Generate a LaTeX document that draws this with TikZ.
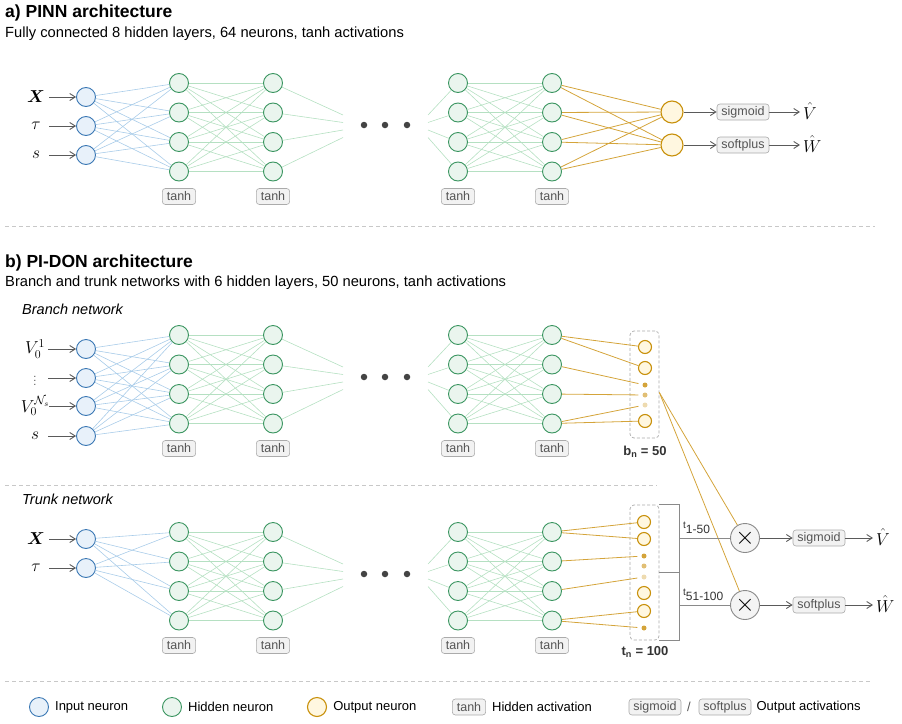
\documentclass[tikz,border=0pt]{standalone}
\usepackage{fontspec}
\setmainfont{Liberation Sans}
\usepackage{bm}
\usetikzlibrary{arrows.meta,positioning}

\definecolor{inblue}{HTML}{3B78B4}
\definecolor{infill}{HTML}{E8F1FA}
\definecolor{inline}{HTML}{A9CCE9}
\definecolor{hidgreen}{HTML}{3A9560}
\definecolor{hidfill}{HTML}{EAF5EE}
\definecolor{hidline}{HTML}{B5E0C2}
\definecolor{outgold}{HTML}{C8900A}
\definecolor{outfill}{HTML}{FFF7E0}
\definecolor{goldline}{HTML}{D4A43A}
\definecolor{boxgray}{HTML}{ABABAB}
\definecolor{boxfill}{HTML}{F2F2F2}
\definecolor{txtgray}{HTML}{555555}
\definecolor{arrgray}{HTML}{5A5A5A}
\definecolor{dotgray}{HTML}{444444}
\definecolor{mulgray}{HTML}{8A8A8A}
\definecolor{mulfill}{HTML}{F4F4F4}
\definecolor{sepgray}{HTML}{C8C8C8}
\definecolor{labgray}{HTML}{333333}

\tikzset{
  neuron/.style={circle, line width=0.9pt, minimum size=19pt, inner sep=0pt},
  inneuron/.style={neuron, draw=inblue, fill=infill},
  hidneuron/.style={neuron, draw=hidgreen, fill=hidfill},
  outneuron/.style={neuron, draw=outgold, fill=outfill, line width=1.1pt},
  bigout/.style={outneuron, minimum size=22pt},
  smallout/.style={outneuron, minimum size=13pt},
  slotdot/.style={circle, fill=#1, minimum size=5pt, inner sep=0pt},
  bigdot/.style={circle, fill=dotgray, minimum size=6.5pt, inner sep=0pt},
  actbox/.style={draw=boxgray, fill=boxfill, rounded corners=3pt, text=txtgray,
    font=\fontsize{12.5}{13}\selectfont, inner xsep=4.5pt, inner ysep=0pt,
    minimum height=16pt, line width=0.6pt},
  mulnode/.style={circle, draw=mulgray, fill=mulfill, line width=0.9pt,
    minimum size=29pt, inner sep=0pt, font=\fontsize{24}{24}\selectfont},
  slotbox/.style={draw=boxgray, dash pattern=on 3pt off 2pt, rounded corners=4pt,
    minimum width=29pt, inner sep=0pt, line width=0.7pt},
  inlabel/.style={minimum width=26pt, inner sep=0pt, font=\fontsize{16.5}{18}\selectfont},
  hatlabel/.style={anchor=west, inner sep=2pt, font=\fontsize{17}{18}\selectfont},
  feed/.style={-{Straight Barb[length=5.5pt,width=7pt]}, arrgray, line width=0.9pt},
  inedge/.style={inline, line width=0.6pt},
  hidedge/.style={hidline, line width=0.6pt},
  outedge/.style={goldline, line width=0.8pt},
  bracket/.style={mulgray, line width=0.8pt},
  sep/.style={sepgray, dash pattern=on 4pt off 3pt, line width=0.7pt},
  heading/.style={anchor=west, inner sep=0pt, font=\bfseries\fontsize{17.5}{20}\selectfont},
  subheading/.style={anchor=west, inner sep=0pt, font=\fontsize{14.7}{17}\selectfont},
  netname/.style={anchor=west, inner sep=0pt, font=\itshape\fontsize{14.5}{17}\selectfont},
  legtext/.style={anchor=west, inner sep=0pt, font=\fontsize{13}{15}\selectfont},
  sizelabel/.style={font=\bfseries\fontsize{13}{15}\selectfont, text=labgray, inner sep=0pt},
  tlabel/.style={anchor=base west, inner sep=0pt, text=labgray, font=\fontsize{12}{13}\selectfont},
}

\begin{document}
\begin{tikzpicture}[x=1pt,y=-1pt]
  \useasboundingbox (0,0) rectangle (902,723);

  % Headings
  \node[heading] (ttla) at (5,13) {a) PINN architecture};
  \node[subheading] (suba) at (5,34) {Fully connected 8 hidden layers, 64 neurons, tanh activations};
  \node[heading] (ttlb) at (5,263) {b) PI-DON architecture};
  \node[subheading] (subb) at (5,283) {Branch and trunk networks with 6 hidden layers, 50 neurons, tanh activations};
  \node[netname] (brname) at (22,309) {Branch network};
  \node[netname] (trname) at (22,499) {Trunk network};

  % Section separators
  \draw[sep] (5,226) -- (875,226);
  \draw[sep] (5,485) -- (657,485);
  \draw[sep] (5,681) -- (870,681);

  % Hidden layers of the three networks
  \foreach \blk/\ytop in {p/83, b/335, t/532} {
    \foreach \col/\xx in {1/179, 2/273, 3/458, 4/552} {
      \foreach \row in {1,...,4}
        \node[hidneuron] (\blk h\col\row) at (\xx,\ytop+29.5*\row-29.5) {};
      \node[actbox] (\blk act\col) at (\xx,\ytop+113.5) {tanh};
    }
    % skipped layers
    \node[bigdot] (\blk dot1) at (364,\ytop+42) {};
    \node[bigdot] (\blk dot2) at (385,\ytop+42) {};
    \node[bigdot] (\blk dot3) at (407,\ytop+42) {};
    \foreach \row in {1,...,4} {
      \coordinate (\blk l\row) at (343,\ytop+24.5+7.5*\row);
      \coordinate (\blk r\row) at (428,\ytop+24.5+7.5*\row);
      \draw[hidedge] (\blk h2\row) -- (\blk l\row);
      \draw[hidedge] (\blk r\row) -- (\blk h3\row);
    }
    \foreach \i in {1,...,4}
      \foreach \j in {1,...,4} {
        \draw[hidedge] (\blk h1\i) -- (\blk h2\j);
        \draw[hidedge] (\blk h3\i) -- (\blk h4\j);
      }
  }

  % PINN inputs
  \foreach \k/\yy/\lab in {1/97/{$\bm{X}$}, 2/126/{$\tau$}, 3/155/{$s$}} {
    \node[inneuron] (pin\k) at (86,\yy) {};
    \node[inlabel] (pinl\k) at (36,\yy) {\lab};
    \draw[feed] (pinl\k) -- (pin\k);
    \foreach \j in {1,...,4}
      \draw[inedge] (pin\k) -- (ph1\j);
  }

  % PINN outputs
  \node[bigout] (pout1) at (672,112) {};
  \node[bigout] (pout2) at (672,145) {};
  \foreach \i in {1,...,4} {
    \draw[outedge] (ph4\i) -- (pout1);
    \draw[outedge] (ph4\i) -- (pout2);
  }
  \node[actbox] (psig) at (743,112) {sigmoid};
  \node[actbox] (psoft) at (743,145) {softplus};
  \node[hatlabel] (pV) at (801,111) {$\hat{V}$};
  \node[hatlabel] (pW) at (801,144) {$\hat{W}$};
  \draw[feed] (pout1) -- (psig);
  \draw[feed] (pout2) -- (psoft);
  \draw[feed, shorten >=1pt] (psig) -- (psig -| pV.west);
  \draw[feed, shorten >=1pt] (psoft) -- (psoft -| pW.west);

  % Branch inputs
  \foreach \k/\yy/\lab in {1/349/{$V_0^1$}, 2/378/{\fontsize{11}{11}\selectfont\color{txtgray}$\vdots$}, 3/406/{$V_0^{\mathcal{N}_s}$}, 4/436/{$s$}} {
    \node[inneuron] (bin\k) at (86,\yy) {};
    \node[inlabel] (binl\k) at (35,\yy) {\lab};
    \draw[feed] (binl\k) -- (bin\k);
    \foreach \j in {1,...,4}
      \draw[inedge] (bin\k) -- (bh1\j);
  }

  % Trunk inputs
  \foreach \k/\yy/\lab in {1/539/{$\bm{X}$}, 2/568/{$\tau$}} {
    \node[inneuron] (tin\k) at (86,\yy) {};
    \node[inlabel] (tinl\k) at (36,\yy) {\lab};
    \draw[feed] (tinl\k) -- (tin\k);
    \foreach \j in {1,...,4}
      \draw[inedge] (tin\k) -- (th1\j);
  }

  % Branch output slots
  \node[slotbox, minimum height=107pt] (bbox) at (644.5,384.5) {};
  \node[smallout] (bo1) at (645,347) {};
  \node[smallout] (bo2) at (645,368) {};
  \node[slotdot=goldline] (bd1) at (645,385) {};
  \node[slotdot=goldline!70] (bd2) at (645,395) {};
  \node[slotdot=goldline!40] (bd3) at (645,405) {};
  \node[smallout] (bo3) at (645,421) {};
  \node[sizelabel] (bsize) at (645,452) {b\textsubscript{n} = 50};
  \draw[outedge] (bh41) -- (bo1);
  \draw[outedge] (bh41) -- (bo2);
  \draw[outedge, shorten >=4pt] (bh42) -- (bd1);
  \draw[outedge, shorten >=4pt] (bh43) -- (bd2);
  \draw[outedge, shorten >=4pt] (bh44) -- (bd3);
  \draw[outedge] (bh44) -- (bo3);

  % Trunk output slots
  \node[slotbox, minimum height=135pt] (tbox) at (644.5,572.5) {};
  \node[smallout] (to1) at (644,522) {};
  \node[smallout] (to2) at (644,539) {};
  \node[slotdot=goldline] (td1) at (644,556) {};
  \node[slotdot=goldline!70] (td2) at (644,566) {};
  \node[slotdot=goldline!40] (td3) at (644,577) {};
  \node[smallout] (to3) at (644,593) {};
  \node[smallout] (to4) at (644,611) {};
  \node[slotdot=goldline] (td4) at (644,628) {};
  \node[sizelabel] (tsize) at (645,652) {t\textsubscript{n} = 100};
  \draw[outedge] (th41) -- (to1);
  \draw[outedge] (th41) -- (to2);
  \draw[outedge, shorten >=4pt] (th42) -- (td1);
  \draw[outedge, shorten >=4pt] (th43) -- (td3);
  \draw[outedge] (th44) -- (to4);
  \draw[outedge, shorten >=4pt] (th44) -- (td4);

  % Products and outputs
  \node[mulnode] (mul1) at (745,538) {$\times$};
  \node[mulnode] (mul2) at (745,605) {$\times$};
  \coordinate (bjoin) at ([yshift=-8pt]bbox.east);
  \draw[outedge] (bjoin) -- (mul1);
  \draw[outedge] (bjoin) -- (mul2);
  \draw[bracket] (tbox.north east) -- ++(20,0) |- (tbox.south east);
  \draw[bracket] (tbox.east) -- ++(20,0);
  \coordinate (tjoin1) at (679,538);
  \coordinate (tjoin2) at (679,605);
  \draw[bracket] (tjoin1) -- (mul1);
  \draw[bracket] (tjoin2) -- (mul2);
  \node[tlabel] (tl1) at (683,533) {\raisebox{5pt}{\fontsize{10}{10}\selectfont t}1-50};
  \node[tlabel] (tl2) at (683,600) {\raisebox{5pt}{\fontsize{10}{10}\selectfont t}51-100};
  \node[actbox] (bsig) at (819,538) {sigmoid};
  \node[actbox] (bsoft) at (819,605) {softplus};
  \node[hatlabel] (bV) at (874,537) {$\hat{V}$};
  \node[hatlabel] (bW) at (874,604) {$\hat{W}$};
  \draw[feed] (mul1) -- (bsig);
  \draw[feed] (mul2) -- (bsoft);
  \draw[feed, shorten >=1pt] (bsig) -- (bsig -| bV.west);
  \draw[feed, shorten >=1pt] (bsoft) -- (bsoft -| bW.west);

  % Legend
  \node[inneuron] (lgin) at (39,707) {};
  \node[legtext, right=6pt of lgin] (lgint) {Input neuron};
  \node[hidneuron] (lghid) at (172,707) {};
  \node[legtext, right=6pt of lghid] (lghidt) {Hidden neuron};
  \node[outneuron] (lgout) at (317,707) {};
  \node[legtext, right=6pt of lgout] (lgoutt) {Output neuron};
  \node[actbox] (lgact) at (469,707) {tanh};
  \node[legtext, right=6pt of lgact] (lgactt) {Hidden activation};
  \node[actbox] (lgsig) at (655,707) {sigmoid};
  \node[legtext, text=txtgray] (lgslash) at (687,707) {/};
  \node[actbox] (lgsoft) at (725,707) {softplus};
  \node[legtext, right=5pt of lgsoft] (lgsoftt) {Output activations};
\end{tikzpicture}
\end{document}
